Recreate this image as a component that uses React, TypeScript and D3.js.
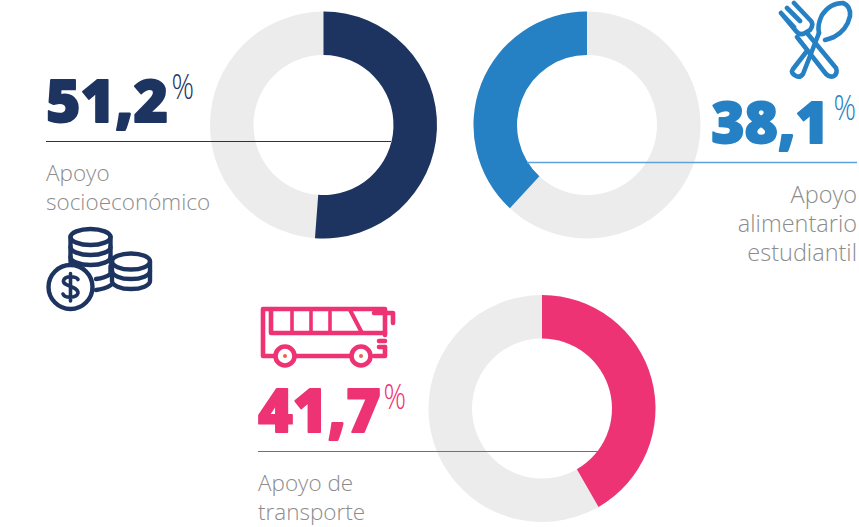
import React from "react";
import * as d3 from "d3";

const labels = [["Apoyo", "socioeconómico"], ["Apoyo", "alimentario", "estudiantil"], ["Apoyo de", "transporte"]];
const values = [51.2, 38.1, 41.7];
const valueLabels = ["51,2", "38,1", "41,7"];
const colors = ["#1d3461", "#2681c4", "#ee3375"];
const TRACK = "#ececed";
const GREY = "#8c8c8c";
const FONT = "'Open Sans', sans-serif";

const angle = d3.scaleLinear().domain([0, 100]).range([0, 2 * Math.PI]);
const arc = d3.arc().innerRadius(70).outerRadius(113.5);

function Donut({ cx, cy, value, color, ccw }: any) {
  const a = angle(value);
  const track = arc({ startAngle: 0, endAngle: 2 * Math.PI } as any) as string;
  const seg = arc({ startAngle: ccw ? -a : 0, endAngle: ccw ? 0 : a } as any) as string;
  return (
    <g transform={`translate(${cx},${cy})`}>
      <path d={track} fill={TRACK} />
      <path d={seg} fill={color} />
    </g>
  );
}

function Big({ x, y, text, color, anchor, size = 59 }: any) {
  return (
    <text x={x} y={y} fill={color} stroke={color} strokeWidth={1.8} strokeLinejoin="round" fontFamily={FONT} fontWeight={800} fontSize={size} textAnchor={anchor}>
      {text}
    </text>
  );
}

function Pct({ x, y, color }: any) {
  return (
    <text transform={`translate(${x},${y}) scale(0.82,1)`} fill={color} fontFamily={FONT} fontWeight={300} fontSize={34}>%</text>
  );
}

function Lines({ x, ys, lines, anchor, size = 22.5 }: any) {
  return (
    <>
      {lines.map((l: string, i: number) => (
        <text key={l} x={x} y={ys[i]} fill={GREY} fontFamily={FONT} fontWeight={300} fontSize={size} textAnchor={anchor}>{l}</text>
      ))}
    </>
  );
}

function Coins({ color }: any) {
  const s = { fill: "none", stroke: color, strokeWidth: 4.4, strokeLinejoin: "round", strokeLinecap: "round" } as any;
  const band = (cx: number, y: number, rx: number) => `M${cx - rx},${y} A${rx},8 0 0 0 ${cx + rx},${y}`;
  return (
    <g {...s}>
      <ellipse cx={90.5} cy={237} rx={20} ry={8} />
      <path d="M70.5,237V262M110.5,237V262" />
      <path d={band(90.5, 247, 20)} />
      <path d={band(90.5, 257, 20)} />
      <ellipse cx={131} cy={261.5} rx={19} ry={8} />
      <path d="M112,261.5V281A19,8 0 0 0 150,281V261.5" />
      <path d={band(131, 271, 19)} />
      <path d="M96,279Q105,278 110.5,274V266M96,290Q105,289 111,285" />
      <circle cx={70.5} cy={287} r={22} fill="#fff" />
      <path d="M78,279.5C76,276 65,275.5 63.5,280.5C62.5,287 78,285.5 78,293C76.5,298.5 65,298.5 63,294M70.5,273.5V301" strokeWidth={3.6} />
    </g>
  );
}

function Cutlery({ color }: any) {
  const s = { fill: "none", stroke: color, strokeWidth: 4.6, strokeLinejoin: "round", strokeLinecap: "round" } as any;
  return (
    <g {...s}>
      <path d="M781,13L794,27M787,8L800,21M794,3L811,21Q814,25 810,30L805,33Q800,36 796,31L781,13" />
      <path d="M807,33L836,68Q838,73 834,76Q830,78 826,74L797,37" />
      <path d="M807,51L793,69Q790,73 796,76Q800,78 803,74L819,33" />
      <path d="M819,33Q817,25 822,15Q830,3 843,3Q851,6 850,16Q847,30 834,37Q829,39 825,40" />
    </g>
  );
}

function Bus({ color }: any) {
  const s = { fill: "none", stroke: color, strokeWidth: 4.6, strokeLinejoin: "round", strokeLinecap: "round" } as any;
  return (
    <g {...s}>
      <path d="M274,356H263V309H385V335M385,347V356H374M296,356H350" />
      <path d="M271,310V333H385" />
      <path d="M292,310V332M311,310V332M330,310V332" strokeWidth={3.6} />
      <path d="M350,310L362,333" strokeWidth={4} />
      <path d="M374,313H393V323" />
      <path d="M379,341H385M379,347H385" />
      <circle cx={285} cy={356} r={9.5} fill="#fff" />
      <circle cx={361} cy={356} r={9.5} fill="#fff" />
      <circle cx={285} cy={356} r={2} fill="#f0604a" stroke="none" />
      <circle cx={361} cy={356} r={2} fill="#f0604a" stroke="none" />
    </g>
  );
}

export default function App() {
  return (
    <svg width={859} height={527} viewBox="0 0 859 527" style={{ position: "absolute", left: 0, top: 0, background: "#fff" }}>
      <Donut cx={323.5} cy={125} value={values[0]} color={colors[0]} />
      <Donut cx={587} cy={125} value={values[1]} color={colors[1]} ccw />
      <Donut cx={542} cy={408.5} value={values[2]} color={colors[2]} />

      <line x1={46} x2={391} y1={141.5} y2={141.5} stroke={colors[0]} strokeWidth={1.2} />
      <line x1={527} x2={857} y1={162.5} y2={162.5} stroke="#5fa3d8" strokeWidth={1.4} />
      <line x1={258} x2={598} y1={451.5} y2={451.5} stroke={colors[2]} strokeWidth={1} />

      <Big x={46} y={122} text={valueLabels[0]} color={colors[0]} />
      <Pct x={171.5} y={99} color={colors[0]} />
      <Big x={829} y={143} text={valueLabels[1]} color={colors[1]} anchor="end" size={57} />
      <Pct x={833.5} y={120} color={colors[1]} />
      <Big x={258} y={432} text={valueLabels[2]} color={colors[2]} size={59.5} />
      <Pct x={383.5} y={409} color={colors[2]} />

      <Lines x={46} ys={[181, 210]} lines={labels[0]} />
      <Lines x={857} ys={[203, 232, 261]} lines={labels[1]} anchor="end" size={23.5} />
      <Lines x={258} ys={[491, 520]} lines={labels[2]} />

      <Coins color={colors[0]} />
      <Cutlery color={colors[1]} />
      <Bus color={colors[2]} />
    </svg>
  );
}
